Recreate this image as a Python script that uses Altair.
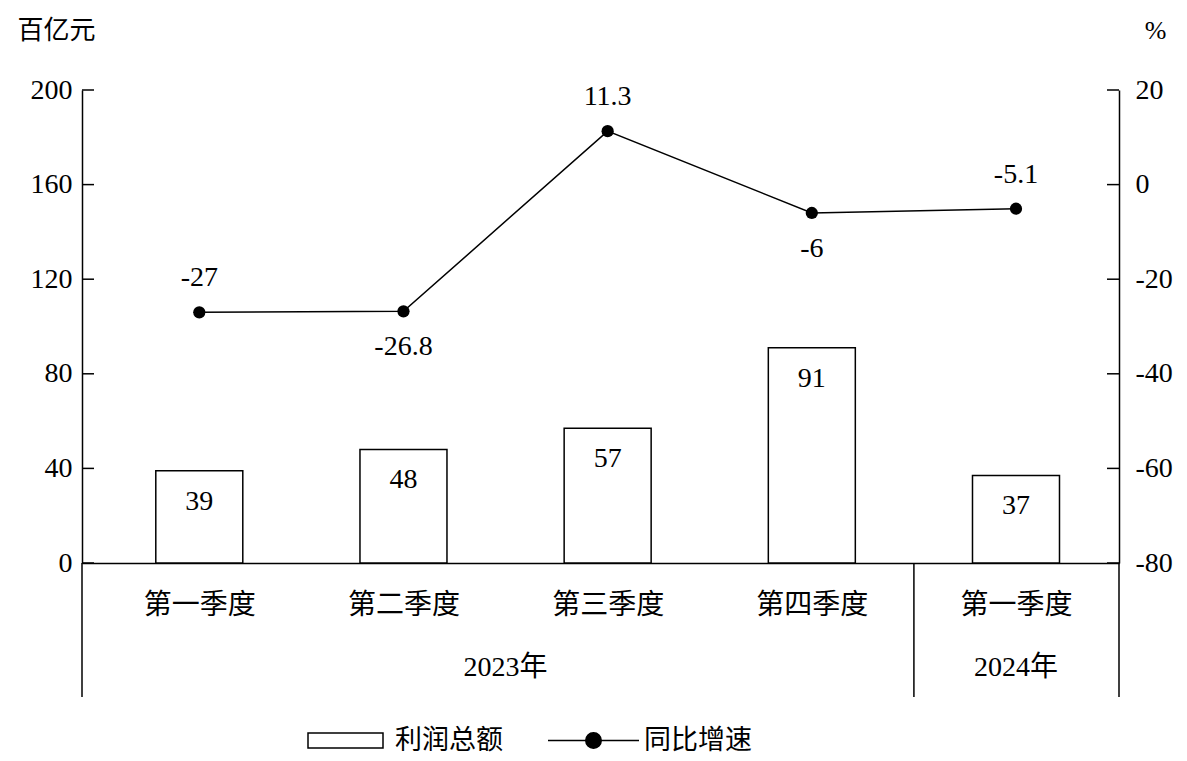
import json
import altair as alt
import pandas as pd

# ---------------- data ----------------
quarters = ["第一季度", "第二季度", "第三季度", "第四季度", "第一季度"]
years = ["2023年", "2023年", "2023年", "2023年", "2024年"]
profit = [39, 48, 57, 91, 37]            # 利润总额 (百亿元)
growth = [-27, -26.8, 11.3, -6, -5.1]    # 同比增速 (%)
left_ticks = [0, 40, 80, 120, 160, 200]
right_ticks = [-80, -60, -40, -20, 0, 20]
series_names = ["利润总额", "同比增速"]

# ---------------- styling ----------------
W, H = 1037, 473
FONT = '"Liberation Serif", "Noto Sans CJK SC"'
FS = 28

df = pd.DataFrame({
    "idx": list(range(len(quarters))),
    "quarter": quarters,
    "year": years,
    "profit": profit,
    "growth": growth,
})
df["s1"] = series_names[0]
df["s2"] = series_names[1]
df["profit_label"] = [f"{v:g}" for v in profit]
df["growth_label"] = [f"{v:g}" for v in growth]

# year boundaries (between groups) in category space
first_idx = {}
last_idx = {}
for i, y in enumerate(years):
    first_idx.setdefault(y, i)
    last_idx[y] = i
uniq_years = list(dict.fromkeys(years))
bounds = [(last_idx[a] + first_idx[b]) / 2 for a, b in zip(uniq_years[:-1], uniq_years[1:])]
bounds_df = pd.DataFrame({"idx": bounds})

x_scale = alt.Scale(domain=[-0.55, 4.48], nice=False, zero=False)
label_expr = json.dumps(quarters, ensure_ascii=False) + "[datum.value]"
x_axis = alt.Axis(values=list(range(len(quarters))), labelExpr=label_expr, ticks=False, grid=False,
                  domainColor="black", domainWidth=1.5, labelFont=FONT, labelFontSize=FS,
                  labelColor="black", labelPadding=28, title=None, labelFlush=False,
                  labelOverlap=False)
X = alt.X("idx:Q", scale=x_scale, axis=x_axis)

yl_scale = alt.Scale(domain=[0, 200], nice=False, zero=False)
yl_axis = alt.Axis(orient="left", values=left_ticks, labelExpr="'' + datum.value", ticks=False,
                   grid=False, domainColor="black", domainWidth=1.5, labelFont=FONT,
                   labelFontSize=FS, labelColor="black", labelPadding=10, labelFlush=False,
                   title="百亿元", titleAngle=0, titleX=-26, titleY=-60, titleAlign="center",
                   titleBaseline="middle", titleFont=FONT, titleFontSize=26,
                   titleFontWeight="normal", titleColor="black")
YL = alt.Y("profit:Q", scale=yl_scale, axis=yl_axis)

yr_scale = alt.Scale(domain=[-80, 20], nice=False, zero=False)
yr_axis = alt.Axis(orient="right", values=right_ticks, labelExpr="'' + datum.value", ticks=False,
                   grid=False, domainColor="black", domainWidth=1.5, labelFont=FONT,
                   labelFontSize=FS, labelColor="black", labelPadding=16, labelFlush=False,
                   title="%", titleAngle=0, titleX=36, titleY=-60, titleAlign="center",
                   titleBaseline="middle", titleFont=FONT, titleFontSize=26,
                   titleFontWeight="normal", titleColor="black")
YR = alt.Y("growth:Q", scale=yr_scale, axis=yr_axis)

bar_legend = alt.Legend(title=None, orient="none", legendX=225, legendY=612,
                        symbolType="M-1,-0.2H1V0.2H-1Z", symbolSize=5625,
                        symbolStrokeColor="black", symbolStrokeWidth=1.5,
                        labelFont=FONT, labelFontSize=27, labelColor="black",
                        labelOffset=11, padding=0)
line_legend = alt.Legend(title=None, orient="none", legendX=465, legendY=604,
                         symbolType="M-1,0H1M-0.17,0A0.17,0.17 0 1,1 0.17,0A0.17,0.17 0 1,1 -0.17,0Z",
                         symbolSize=8281, symbolStrokeColor="black", symbolFillColor="black",
                         symbolStrokeWidth=1.5, labelFont=FONT, labelFontSize=27,
                         labelColor="black", labelOffset=4, padding=0)

# ---------------- left (bars) ----------------
bars = alt.Chart(df).mark_bar(size=87, stroke="black", strokeWidth=1.5).encode(
    x=X, y=YL,
    fill=alt.Fill("s1:N", scale=alt.Scale(domain=[series_names[0]], range=["white"]), legend=bar_legend),
)
bar_text = alt.Chart(df).mark_text(font=FONT, fontSize=FS, baseline="middle", dy=31, color="black").encode(
    x=X, y=YL, text="profit_label:N"
)
left_tick_rules = alt.Chart(pd.DataFrame({"profit": left_ticks})).mark_rule(color="black", strokeWidth=1.5).encode(
    y=YL, x=alt.value(0), x2=alt.value(12)
)
left = alt.layer(bars, bar_text, left_tick_rules)

# ---------------- right (line) ----------------
line = alt.Chart(df).mark_line(strokeWidth=1.5).encode(
    x=X, y=YR,
    stroke=alt.Stroke("s2:N", scale=alt.Scale(domain=[series_names[1]], range=["black"]), legend=line_legend),
)
points = alt.Chart(df).mark_circle(size=150, color="black", opacity=1).encode(x=X, y=YR)
text_above = alt.Chart(df).transform_filter("datum.idx % 2 == 0").mark_text(
    font=FONT, fontSize=FS, baseline="middle", dy=-34, color="black").encode(x=X, y=YR, text="growth_label:N")
text_below = alt.Chart(df).transform_filter("datum.idx % 2 == 1").mark_text(
    font=FONT, fontSize=FS, baseline="middle", dy=36, color="black").encode(x=X, y=YR, text="growth_label:N")
right_tick_rules = alt.Chart(pd.DataFrame({"growth": right_ticks})).mark_rule(color="black", strokeWidth=1.5).encode(
    y=YR, x=alt.value(W - 12), x2=alt.value(W)
)
right = alt.layer(line, points, text_above, text_below, right_tick_rules)

# ---------------- category frame below axis ----------------
edge_rules = alt.Chart(pd.DataFrame({"e": [0, W]})).mark_rule(color="black", strokeWidth=1.5).encode(
    x=alt.X("e:Q", scale=None), y=alt.value(H), y2=alt.value(H + 134)
)
sep_rules = alt.Chart(bounds_df).mark_rule(color="black", strokeWidth=1.5).encode(
    x=X, y=alt.value(H), y2=alt.value(H + 134)
)
year_text = alt.Chart(df).transform_aggregate(
    idx="mean(idx)", groupby=["year"]
).mark_text(font=FONT, fontSize=FS, baseline="middle", color="black").encode(
    x=X, y=alt.value(H + 105), text="year:N"
)

chart = alt.layer(left, right, edge_rules, sep_rules, year_text).resolve_scale(
    y="independent", fill="independent", stroke="independent"
).properties(
    width=W, height=H,
    autosize=alt.AutoSizeParams(type="none"),
    padding={"left": 74, "top": 82, "right": 60, "bottom": 190},
).configure_view(stroke=None)

chart.save("out.html", embed_options={"renderer": "svg", "actions": False})
